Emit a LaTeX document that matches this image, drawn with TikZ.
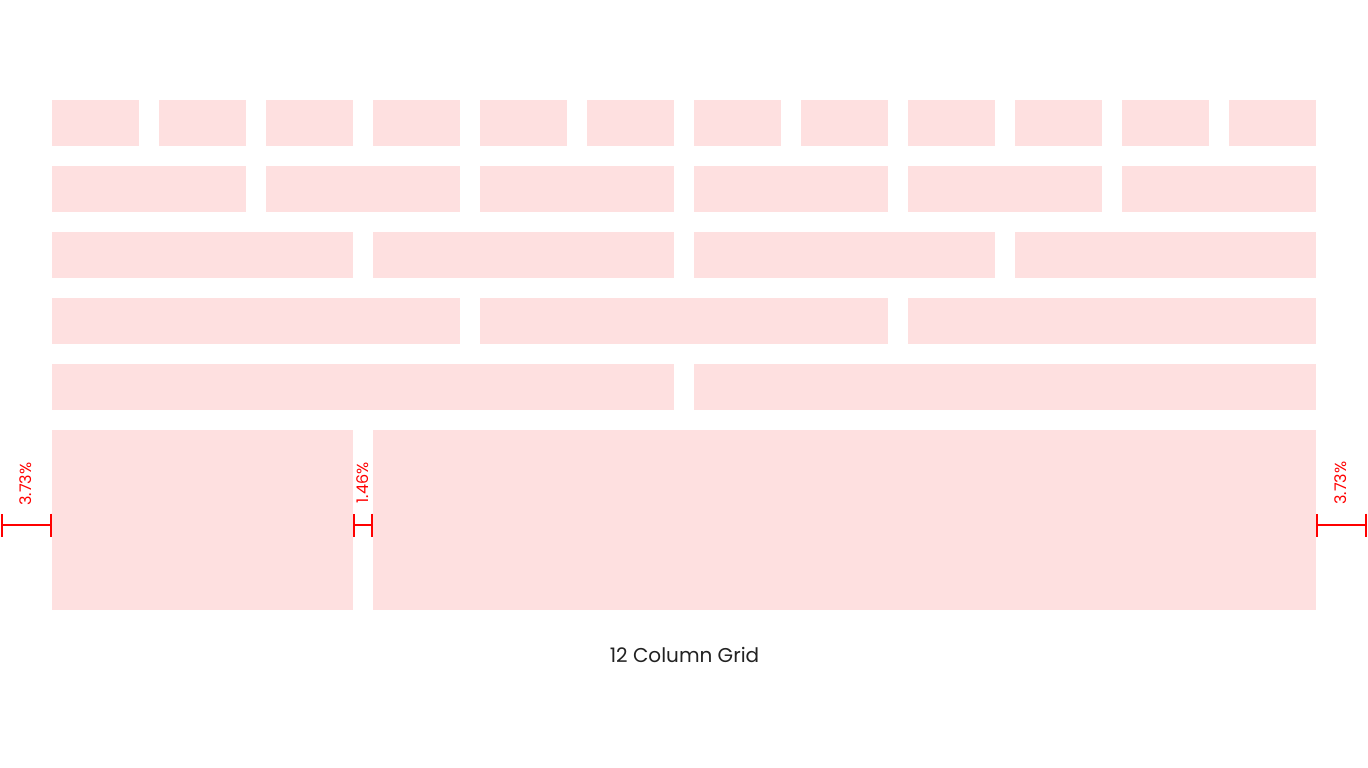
\documentclass[tikz,border=0pt]{standalone}
\usepackage{fontspec}
\setmainfont{Poppins}
\usetikzlibrary{arrows.meta}
\definecolor{cellpink}{RGB}{254,224,224}
\definecolor{titlegrey}{RGB}{34,34,34}

\begin{document}
\begin{tikzpicture}[
  x=1pt, y=-1pt,
  cell/.style={fill=cellpink},
  gap/.style={red, line width=2pt, {Bar[width=23pt,line width=2pt]}-{Bar[width=23pt,line width=2pt]}},
  pct/.style={red, rotate=90, font=\fontsize{16}{16}\selectfont, inner sep=0pt},
  title/.style={titlegrey, font=\fontsize{20}{20}\selectfont, inner sep=0pt}
]
  \useasboundingbox[fill=white] (0,0) rectangle (1368,768);

  % rows of 1, 2, 3, 4 and 6 columns
  \foreach \w [count=\r from 0] in {1,2,3,4,6} {
    \pgfmathtruncatemacro\n{12/\w-1}
    \foreach \c in {0,...,\n}
      \fill[cell] ({52+\c*\w*107},{100+\r*66}) rectangle ++({\w*107-20},46);
  }

  % 3 + 9
  \fill[cell] (52,430) rectangle (353,610);
  \fill[cell] (373,430) rectangle (1316,610);

  % margins and gutter
  \coordinate (ml) at (1,525);
  \coordinate (mr) at (52,525);
  \coordinate (gl) at (353,525);
  \coordinate (gr) at (373,525);
  \coordinate (rl) at (1316,525);
  \coordinate (rr) at (1367,525);
  \draw[gap] (ml) -- (mr);
  \draw[gap] (gl) -- (gr);
  \draw[gap] (rl) -- (rr);
  \node[pct] (pctleft) at (26,484) {3.73\%};
  \node[pct] (pctgap) at (363,483) {1.46\%};
  \node[pct] (pctright) at (1341,483) {3.73\%};

  \node[title] (caption) at (684.5,655) {12 Column Grid};
\end{tikzpicture}
\end{document}
